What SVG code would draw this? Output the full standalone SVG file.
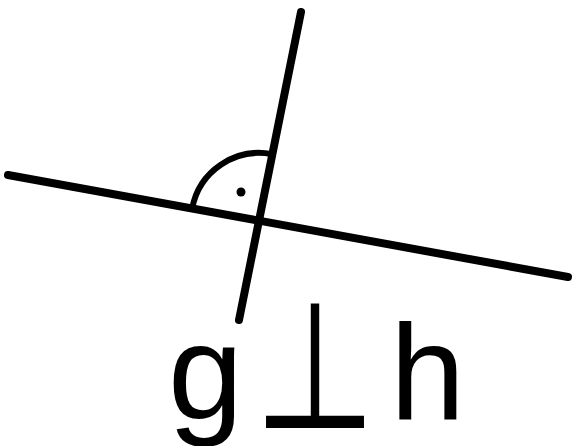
<svg xmlns="http://www.w3.org/2000/svg" width="573" height="446" viewBox="0 0 573 446">
<style>
.ln{stroke:#000;stroke-width:8;stroke-linecap:round;fill:none}
.arc{stroke:#000;stroke-width:6;fill:none}
.t{font-family:"Liberation Sans",Arial,sans-serif;font-size:135px;fill:#000}
.s{font-family:"Noto Sans CJK SC",sans-serif;font-size:124px;font-weight:400;fill:#000}
</style>
<rect width="573" height="446" fill="#fff"/>
<g id="lines">
<line id="h" class="ln" x1="8" y1="175" x2="568" y2="277"/>
<line id="g" class="ln" x1="301" y1="12" x2="239" y2="320"/>
</g>
<g id="angle">
<path class="arc" d="M192.1,208.8 A68,68 0 0 1 272.4,154.3"/>
<circle cx="241" cy="192" r="4.5" fill="#000"/>
</g>
<g id="label">
<text class="t" x="168" y="419">g</text>
<text class="s" transform="translate(253,434) scale(1,1.42)" x="0" y="0">⊥</text>
<text class="t" x="390" y="419">h</text>
</g>
</svg>
